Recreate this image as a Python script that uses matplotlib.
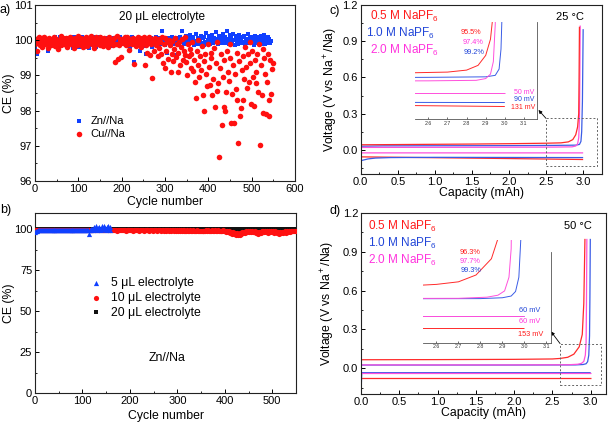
import numpy as np
import matplotlib
matplotlib.use('Agg')
import matplotlib.pyplot as plt
from matplotlib.ticker import MultipleLocator
from matplotlib.patches import Rectangle

plt.rcParams['font.family'] = ['Liberation Sans', 'DejaVu Sans']
plt.rcParams['mathtext.default'] = 'regular'

# ---------------- data: panel a (20 uL electrolyte), every 2nd cycle ----------------
zn_ce = [
 99.82, 99.95, 99.6, 99.9, 100.05, 99.93, 99.88, 100.02, 99.97, 99.85, 100.06, 99.92, 99.9, 100.0, 99.95, 99.68, 99.88, 100.03, 99.96, 99.91,
 100.04, 99.89, 99.97, 100.08, 99.93, 99.86, 100.0, 99.94, 100.1, 99.9, 99.83, 99.98, 100.05, 99.92, 99.96, 99.87, 100.02, 99.95, 99.9, 100.07,
 99.94, 99.88, 100.03, 99.78, 99.97, 100.09, 99.91, 99.86, 100.01, 99.95, 99.8, 100.04, 99.93, 99.99, 100.08, 99.89, 99.84, 100.02, 99.96, 99.92,
 100.06, 99.9, 99.77, 99.98, 100.03, 99.94, 100.1, 99.87, 99.95, 100.01, 99.82, 99.97, 100.05, 99.91, 99.88, 100.08, 99.93, 99.99, 99.85, 100.04,
 99.95, 99.9, 100.02, 99.87, 100.07, 99.93, 99.97, 99.83, 100.03, 99.96, 99.89, 100.06, 99.92, 99.98, 100.01, 99.86, 99.94, 100.09, 99.9, 99.96,
 100.04, 99.88, 99.93, 100.0, 99.85, 100.06, 99.97, 99.91, 100.03, 99.8, 99.95, 100.08, 99.89, 99.99, 99.39, 99.94, 100.02, 99.87, 99.96, 100.05,
 99.92, 99.7, 100.01, 99.9, 99.97, 100.07, 99.84, 99.95, 99.6, 100.03, 99.91, 99.98, 99.88, 100.05, 99.94, 99.82, 100.0, 99.96, 99.9, 100.08,
 99.93, 100.02, 99.87, 99.97, 100.05, 99.9, 100.27, 99.94, 99.99, 99.85, 100.04, 99.92, 99.65, 100.06, 99.96, 99.89, 100.01, 99.93, 100.09, 99.88,
 99.97, 100.03, 99.91, 99.58, 100.07, 99.95, 99.86, 100.1, 99.94, 100.26, 99.99, 99.9, 100.05, 99.97, 100.12, 99.92, 100.02, 99.88, 100.15, 99.96,
 100.04, 99.93, 100.1, 99.87, 99.99, 100.18, 99.94, 100.06, 99.9, 100.02, 99.97, 100.13, 99.91, 100.05, 99.85, 100.08, 99.95, 100.2, 99.93, 100.0,
 100.11, 99.89, 100.04, 99.96, 100.16, 99.92, 100.07, 99.98, 100.22, 99.94, 100.03, 99.88, 100.12, 99.97, 100.06, 99.91, 100.18, 99.95, 100.01, 100.1,
 99.93, 100.26, 100.04, 99.89, 100.14, 99.97, 100.07, 99.92, 100.19, 100.0, 99.86, 100.11, 99.95, 100.05, 99.9, 100.15, 99.98, 100.02, 99.93, 100.09,
 99.96, 100.13, 99.88, 100.04, 99.95, 100.17, 99.91, 100.06, 99.99, 100.1, 99.94, 100.02, 99.87, 100.12, 99.96, 100.05, 99.92, 100.08, 99.97, 100.0,
 100.11, 99.9, 100.04, 99.95, 100.14, 99.88, 100.06, 99.97, 100.09, 99.93, 100.02, 99.91, 99.98]
cu_ce = [
 99.9, 100.02, 99.7, 99.95, 100.08, 99.85, 99.98, 100.05, 99.8, 99.93, 100.1, 99.88, 99.97, 100.03, 99.78, 99.92, 100.06, 99.95, 99.87, 100.0,
 99.94, 100.09, 99.83, 99.96, 100.04, 99.9, 99.76, 100.01, 99.97, 100.11, 99.86, 99.93, 100.05, 99.89, 99.99, 100.07, 99.82, 99.95, 100.02, 99.91,
 100.1, 99.88, 99.96, 100.04, 99.79, 99.93, 100.07, 99.98, 99.85, 100.12, 99.92, 100.0, 99.87, 100.06, 99.95, 99.8, 100.03, 99.9, 100.09, 99.97,
 99.84, 100.05, 99.93, 99.99, 100.11, 99.88, 99.96, 100.02, 99.77, 99.94, 100.08, 99.9, 100.04, 99.97, 99.86, 100.1, 99.92, 100.0, 99.83, 100.06,
 99.95, 99.89, 100.03, 99.97, 99.8, 100.09, 99.93, 99.99, 100.01, 99.87, 99.92, 100.05, 99.38, 99.9, 100.12, 99.46, 99.85, 100.02, 99.96, 99.51,
 100.04, 99.91, 99.97, 100.08, 99.86, 99.94, 100.1, 99.9, 99.72, 100.03, 99.95, 99.88, 100.06, 99.97, 99.31, 100.01, 99.84, 99.93, 100.09, 99.89,
 99.96, 100.05, 99.82, 99.99, 99.92, 100.08, 99.3, 99.87, 100.02, 99.65, 99.94, 100.1, 99.58, 99.9, 100.04, 98.92, 99.97, 99.7, 100.06, 99.85,
 99.93, 99.55, 100.03, 99.78, 99.96, 99.62, 100.09, 99.36, 99.88, 99.22, 100.05, 99.7, 99.94, 99.48, 100.01, 99.85, 99.09, 99.6, 99.97, 99.4,
 99.75, 100.07, 99.52, 99.88, 99.09, 99.65, 99.95, 99.3, 99.82, 100.02, 99.45, 99.7, 99.58, 100.1, 99.38, 99.02, 99.9, 99.55, 99.75, 99.2,
 99.62, 99.95, 99.12, 99.45, 98.82, 98.36, 99.7, 99.3, 100.0, 98.95, 99.55, 99.15, 99.83, 98.43, 99.4, 97.99, 99.6, 99.05, 98.7, 99.88,
 99.25, 98.73, 99.65, 99.5, 98.43, 98.9, 99.78, 98.1, 99.35, 98.55, 99.95, 98.78, 96.67, 99.2, 99.6, 97.58, 98.95, 98.09, 99.45, 97.99,
 98.53, 99.7, 99.1, 98.85, 99.5, 99.88, 97.65, 98.48, 99.3, 97.65, 99.05, 98.6, 99.65, 98.29, 97.09, 99.4, 97.84, 98.07, 99.15, 98.29,
 99.55, 98.9, 99.8, 99.25, 98.65, 99.6, 98.82, 99.95, 99.35, 98.2, 99.7, 98.95, 98.14, 99.45, 99.1, 98.78, 99.62, 98.53, 99.88, 97.01,
 99.3, 98.45, 99.75, 97.94, 99.5, 99.05, 97.89, 98.82, 99.6, 97.84, 98.29, 99.45, 98.48, 99.17, 99.36]
cyc_zn = np.arange(1, 546, 2)
cyc_cu = np.arange(1, 550, 2)

# ---------------- data: panel b (Zn//Na, electrolyte amount) ----------------
ce_5ul = [
 98.2, 98.9, 99.2, 99.4, 99.5, 99.6, 99.5, 99.7, 99.6, 99.8, 99.6, 99.7, 99.5, 99.8, 99.7, 99.6, 99.8, 99.7, 99.6, 99.8,
 99.7, 99.8, 99.6, 99.9, 99.7, 99.8, 99.6, 99.8, 99.9, 99.7, 99.8, 99.6, 99.9, 99.7, 99.8, 99.7, 99.9, 99.6, 99.8, 99.7,
 99.8, 99.9, 99.7, 99.8, 99.6, 99.9, 99.8, 99.7, 99.9, 99.6, 99.8, 99.7, 99.9, 99.8, 99.5, 99.9, 97.0, 99.6, 100.2, 99.8,
 100.5, 99.9, 101.2, 100.3, 102.2, 99.8, 100.8, 101.5, 100.2, 99.6, 101.8, 100.4, 102.0, 100.9, 99.7, 101.6, 102.1, 100.5, 101.2, 99.8]
ce_10ul = [
 99.2, 99.5, 99.6, 99.4, 99.7, 99.5, 99.6, 99.8, 99.5, 99.7, 99.6, 99.4, 99.7, 99.5, 99.8, 99.6, 99.5, 99.7, 99.6, 99.4,
 99.7, 99.5, 99.6, 99.8, 99.5, 99.6, 99.7, 99.4, 99.6, 99.8, 99.5, 99.7, 99.6, 99.5, 99.7, 99.6, 99.8, 99.5, 99.6, 99.7,
 99.5, 99.6, 99.8, 99.4, 99.7, 99.6, 99.5, 99.7, 99.6, 99.8, 99.5, 99.6, 99.7, 99.4, 99.6, 99.7, 99.5, 99.8, 99.6, 99.5,
 99.7, 99.6, 99.4, 99.7, 99.5, 99.8, 99.6, 99.5, 99.7, 99.6, 99.4, 99.7, 99.5, 99.6, 99.8, 99.5, 99.6, 99.7, 99.5, 99.6,
 99.7, 99.4, 99.6, 99.8, 99.5, 99.6, 99.3, 99.7, 99.5, 99.6, 99.8, 99.4, 99.6, 99.5, 99.7, 99.3, 99.6, 99.5, 99.8, 99.4,
 99.6, 99.5, 99.7, 99.3, 99.6, 99.4, 99.8, 99.5, 99.6, 99.2, 99.7, 99.5, 99.4, 99.6, 99.3, 99.7, 99.5, 99.4, 99.6, 99.5,
 99.3, 99.6, 99.5, 99.7, 99.2, 99.5, 99.4, 99.6, 99.3, 99.7, 99.4, 99.5, 99.2, 99.6, 99.4, 99.3, 99.6, 99.5, 99.2, 99.4,
 99.6, 99.3, 99.5, 99.1, 99.4, 99.6, 99.2, 99.5, 99.3, 99.4, 99.0, 99.5, 99.3, 99.6, 99.2, 99.4, 99.1, 99.5, 99.3, 99.2,
 99.4, 99.0, 99.3, 99.5, 99.1, 99.2, 99.4, 98.9, 99.3, 99.1, 99.4, 99.2, 98.8, 99.3, 99.0, 99.2, 98.9, 99.3, 99.1, 98.8,
 99.4, 99.1, 99.5, 99.0, 99.3, 99.2, 99.6, 98.9, 99.3, 99.4, 98.8, 99.2, 99.5, 98.9, 99.1, 99.3, 98.7, 99.2, 99.4, 98.8,
 99.1, 98.6, 99.0, 98.2, 98.8, 97.8, 98.5, 97.4, 98.3, 96.9, 97.9, 96.6, 97.6, 96.4, 97.3, 96.8, 97.7, 97.2, 98.1, 97.6,
 98.6, 98.0, 98.9, 98.4, 99.0, 98.5, 98.8, 98.2, 99.1, 98.6, 98.3, 98.9, 97.9, 98.5, 97.4, 98.2, 97.8, 98.6, 98.0, 98.7,
 98.9, 98.3, 99.1, 98.5, 98.9, 98.0, 98.7, 98.3, 99.0, 98.5, 98.8, 97.9, 98.7, 98.1, 98.5, 97.6, 98.4, 97.4, 98.2, 97.8,
 98.6, 97.5, 98.3, 98.8, 98.0, 98.9, 98.4, 99.0, 98.6, 99.1, 98.7, 99.2, 98.8, 99.3, 98.9]
ce_20ul = zn_ce
cyc_5 = np.arange(1, 160, 2)
cyc_10 = np.arange(1, 550, 2)
cyc_20 = cyc_zn

# ---------------- data: panel c (25 C) voltage profiles ----------------
c_red_chg_x = [0.0, 0.5, 1.0, 1.5, 2.0, 2.5, 2.7, 2.8, 2.86, 2.9, 2.925, 2.94, 2.945, 2.95]
c_red_chg_y = [0.042, 0.044, 0.046, 0.048, 0.051, 0.055, 0.058, 0.066, 0.085, 0.125, 0.19, 0.3, 0.6, 1.02]
c_pink_chg_x = [0.0, 1.0, 2.0, 2.6, 2.85, 2.9, 2.925, 2.94, 2.95, 2.955, 2.96]
c_pink_chg_y = [0.02, 0.021, 0.022, 0.023, 0.025, 0.032, 0.05, 0.1, 0.25, 0.6, 1.03]
c_blue_chg_x = [0.0, 0.3, 1.0, 2.0, 2.6, 2.9, 2.95, 2.97, 2.98, 2.99, 2.995, 3.0]
c_blue_chg_y = [0.03, 0.033, 0.034, 0.035, 0.037, 0.039, 0.045, 0.07, 0.15, 0.4, 0.7, 1.0]
c_red_dis_x = [0.0, 1.0, 2.0, 3.0]
c_red_dis_y = [-0.058, -0.065, -0.072, -0.08]
c_pink_dis_x = [0.0, 0.0, 0.01, 3.0]
c_pink_dis_y = [0.45, -0.2, -0.025, -0.025]
c_blue_dis_x = [0.0, 0.1, 0.2, 0.4, 1.0, 2.0, 3.0]
c_blue_dis_y = [-0.09, -0.075, -0.068, -0.064, -0.062, -0.063, -0.064]

# ---------------- data: panel d (50 C) voltage profiles ----------------
d_red_chg_x = [0.0, 1.0, 2.0, 2.5, 2.6, 2.7, 2.78, 2.85, 2.89, 2.91, 2.925]
d_red_chg_y = [0.065, 0.066, 0.068, 0.071, 0.075, 0.084, 0.108, 0.165, 0.26, 0.5, 1.0]
d_pink_chg_x = [0.0, 1.0, 2.0, 2.7, 2.83, 2.88, 2.91, 2.93, 2.94, 2.945, 2.95]
d_pink_chg_y = [0.025, 0.025, 0.025, 0.026, 0.03, 0.037, 0.052, 0.1, 0.2, 0.5, 1.0]
d_blue_chg_x = [0.0, 1.0, 2.0, 2.8, 2.9, 2.94, 2.96, 2.975, 2.985, 2.99, 2.995]
d_blue_chg_y = [0.024, 0.024, 0.024, 0.025, 0.028, 0.034, 0.05, 0.1, 0.25, 0.55, 1.0]
d_red_dis_x = [0.0, 3.0]
d_red_dis_y = [-0.08, -0.08]
d_pink_dis_x = [0.0, 3.0]
d_pink_dis_y = [-0.036, -0.036]
d_blue_dis_x = [0.0, 0.0, 0.01, 3.0]
d_blue_dis_y = [0.65, -0.2, -0.035, -0.035]

conc_labels = ['0.5 M NaPF$_6$', '1.0 M NaPF$_6$', '2.0 M NaPF$_6$']
c_ce_labels = ['95.5%', '97.4%', '99.2%']
c_ov_labels = ['50 mV', '90 mV', '131 mV']
d_ce_labels = ['96.3%', '97.7%', '99.3%']
d_ov_labels = ['60 mV', '60 mV', '153 mV']

RED = '#ff2a2a'
BLUE = '#3a5ce6'
PINK = '#ff50dc'
TRED = '#ff1a1a'
TBLUE = '#2246d8'
TPINK = '#ff33dd'

LAB = 8.8
TICK = 8

W, H = 609.0, 425.0


def fr(x0, y0, x1, y1):
    return [x0 / W, 1 - y1 / H, (x1 - x0) / W, (y1 - y0) / H]


def style(ax, xmaj, xmin, ymaj, ymin):
    ax.xaxis.set_major_locator(MultipleLocator(xmaj))
    ax.xaxis.set_minor_locator(MultipleLocator(xmin))
    ax.yaxis.set_major_locator(MultipleLocator(ymaj))
    ax.yaxis.set_minor_locator(MultipleLocator(ymin))
    ax.tick_params(which='both', direction='in', top=False, right=False, labelsize=TICK, pad=2)
    ax.tick_params(which='major', length=3, width=0.7)
    ax.tick_params(which='minor', length=1.6, width=0.6)
    for s in ax.spines.values():
        s.set_linewidth(0.8)
        s.set_color('#222222')


fig = plt.figure(figsize=(6.09, 4.25), dpi=100)

# ---------------- panel a ----------------
axa = fig.add_axes(fr(35, 5, 295, 181))
axa.scatter(cyc_zn, zn_ce, marker='s', s=12, color='#1040ff', linewidths=0, label='Zn//Na')
axa.scatter(cyc_cu, cu_ce, marker='o', s=16, color='#ff1010', linewidths=0, label='Cu//Na')
axa.set_xlim(0, 600)
axa.set_ylim(96, 101)
style(axa, 100, 50, 1, 0.5)
axa.set_xlabel('Cycle number', fontsize=LAB)
axa.set_ylabel('CE (%)', fontsize=LAB)
axa.xaxis.set_label_coords(0.5, -0.083)
axa.yaxis.set_label_coords(-0.077, 0.5)
axa.text(0.49, 0.934, '20 μL electrolyte', transform=axa.transAxes, ha='center', va='center', fontsize=8.5)
axa.legend(loc='center left', bbox_to_anchor=(0.148, 0.304), frameon=False, fontsize=8,
           handlelength=1, handletextpad=0.55, borderpad=0, borderaxespad=0, labelspacing=0.25,
           scatterpoints=1)

# ---------------- panel b ----------------
axb = fig.add_axes(fr(35, 213, 296, 393))
axb.scatter(cyc_20, ce_20ul, marker='s', s=8, color='#111111', linewidths=0, label='20 μL electrolyte', zorder=2)
axb.scatter(cyc_10, ce_10ul, marker='o', s=14, color='#ff1010', linewidths=0, label='10 μL electrolyte', zorder=3)
axb.scatter(cyc_5, ce_5ul, marker='^', s=14, color='#1040ff', linewidths=0, label='5 μL electrolyte', zorder=4)
axb.set_xlim(0, 550)
axb.set_ylim(0, 110)
style(axb, 100, 50, 25, 12.5)
axb.set_xlabel('Cycle number', fontsize=LAB)
axb.set_ylabel('CE (%)', fontsize=LAB)
axb.xaxis.set_label_coords(0.5, -0.094)
axb.yaxis.set_label_coords(-0.077, 0.5)
hb, lb = axb.get_legend_handles_labels()
axb.legend(hb[::-1], lb[::-1], loc='center left', bbox_to_anchor=(0.21, 0.528), frameon=False, fontsize=8.8,
           handlelength=1, handletextpad=0.72, borderpad=0, borderaxespad=0, labelspacing=0.22,
           scatterpoints=1)
axb.text(0.507, 0.193, 'Zn//Na', transform=axb.transAxes, ha='center', va='center', fontsize=8.8)


def draw_profiles(ax, curves, lw):
    for x, y, col in curves:
        ax.plot(x, y, color=col, lw=lw, solid_capstyle='butt')


c_curves = [
    (c_red_dis_x, c_red_dis_y, RED), (c_blue_dis_x, c_blue_dis_y, BLUE), (c_pink_dis_x, c_pink_dis_y, PINK),
    (c_blue_chg_x, c_blue_chg_y, BLUE), (c_pink_chg_x, c_pink_chg_y, PINK), (c_red_chg_x, c_red_chg_y, RED),
]
d_curves = [
    (d_red_dis_x, d_red_dis_y, RED), (d_blue_dis_x, d_blue_dis_y, BLUE), (d_pink_dis_x, d_pink_dis_y, PINK),
    (d_blue_chg_x, d_blue_chg_y, BLUE), (d_pink_chg_x, d_pink_chg_y, PINK), (d_red_chg_x, d_red_chg_y, RED),
]


def main_panel(box, curves, xmax, temp, temp_x, lab_pos, ylab_x, xlab_y, rect):
    ax = fig.add_axes(box)
    draw_profiles(ax, curves, 0.9)
    ax.set_xlim(0, xmax)
    ax.set_ylim(-0.2, 1.2)
    style(ax, 0.5, 0.25, 0.3, 0.15)
    ax.set_xlabel('Capacity (mAh)', fontsize=LAB)
    ax.set_ylabel('Voltage (V vs Na$^+$/Na)', fontsize=LAB)
    ax.xaxis.set_label_coords(0.5, xlab_y)
    ax.yaxis.set_label_coords(ylab_x, 0.5)
    for (tx, ty), lab, col in zip(lab_pos, conc_labels, [TRED, TBLUE, TPINK]):
        ax.text(tx, ty, lab, transform=ax.transAxes, color=col, fontsize=8.5, va='center', ha='left')
    ax.text(temp_x, 0.93, temp, transform=ax.transAxes, fontsize=8, ha='center', va='center')
    ax.add_patch(Rectangle(rect[:2], rect[2], rect[3], fill=False, ls=(0, (2, 2)), lw=0.7,
                           ec='#666666', zorder=5))
    return ax


axc = main_panel(fr(360.7, 5, 601.7, 174), c_curves, 3.25, '25 °C', 0.87,
                 [(0.038, 0.935), (0.024, 0.833), (0.038, 0.734)], -0.086, -0.079,
                 (2.5, -0.13, 0.69, 0.39))
axd = main_panel(fr(361, 213, 606, 394), d_curves, 3.2, '50 °C', 0.884,
                 [(0.03, 0.924), (0.027, 0.833), (0.027, 0.74)], -0.098, -0.07,
                 (2.6, -0.13, 0.54, 0.32))

# arrows from zoom boxes to insets
axc.annotate('', xy=(538.5 / W, 1 - 110 / H), xycoords='figure fraction', xytext=(2.5, 0.26),
             textcoords='data', arrowprops=dict(arrowstyle='-|>', lw=0.6, color='k',
                                                mutation_scale=5, shrinkA=0, shrinkB=0))
axd.annotate('', xy=(551 / W, 1 - 331.5 / H), xycoords='figure fraction', xytext=(2.6, 0.19),
             textcoords='data', arrowprops=dict(arrowstyle='-|>', lw=0.6, color='k',
                                                mutation_scale=5, shrinkA=0, shrinkB=0))


def inset(box, curves, xlim, ylim, spine_top):
    ax = fig.add_axes(box)
    ax.patch.set_alpha(0)
    draw_profiles(ax, curves, 0.7)
    ax.set_xlim(*xlim)
    ax.set_ylim(*ylim)
    ax.spines['left'].set_visible(False)
    ax.spines['top'].set_visible(False)
    for s in ('bottom', 'right'):
        ax.spines[s].set_linewidth(0.6)
        ax.spines[s].set_color('#555555')
    ax.spines['right'].set_bounds(ylim[0], spine_top)
    ax.set_xticks([2.6, 2.7, 2.8, 2.9, 3.0, 3.1])
    ax.set_yticks([])
    ax.tick_params(axis='x', direction='in', length=1.5, width=0.5, labelsize=3.8, pad=1.2,
                   colors='#333333')
    return ax


ins_c = inset(fr(415, 21.7, 537.3, 119), c_curves, (2.53, 3.17), (-0.13, 0.26), 0.26)
ins_d = inset(fr(423.3, 240, 550.7, 342.7), d_curves, (2.54, 3.12), (-0.13, 0.231), 0.19)

# inset annotations (figure-pixel positions)
for (px, py), lab, col in zip([(471, 32.3), (473, 42.7), (474, 52.7)], c_ce_labels, [TRED, TPINK, TBLUE]):
    fig.text(px / W, 1 - py / H, lab, color=col, fontsize=5.3, ha='center', va='center')
for (px, py), lab, col in zip([(534, 92.3), (534, 99.5), (535, 107.3)], c_ov_labels, [TPINK, TBLUE, TRED]):
    fig.text(px / W, 1 - py / H, lab, color=col, fontsize=5.0, ha='right', va='center')
for (px, py), lab, col in zip([(470, 252.7), (470, 261.7), (471, 271)], d_ce_labels, [TRED, TPINK, TBLUE]):
    fig.text(px / W, 1 - py / H, lab, color=col, fontsize=5.3, ha='center', va='center')
for (px, py), lab, col in zip([(540, 310), (540, 321.7), (543, 335)], d_ov_labels, [TBLUE, TPINK, TRED]):
    fig.text(px / W, 1 - py / H, lab, color=col, fontsize=5.3, ha='right', va='center')

# panel letters
for (px, py), lab in zip([(0, 10), (0, 210), (330, 11), (330, 211)], ['a)', 'b)', 'c)', 'd)']):
    fig.text(px / W, 1 - py / H, lab, fontsize=9, ha='left', va='center')

fig.savefig('out.png', dpi=100)
